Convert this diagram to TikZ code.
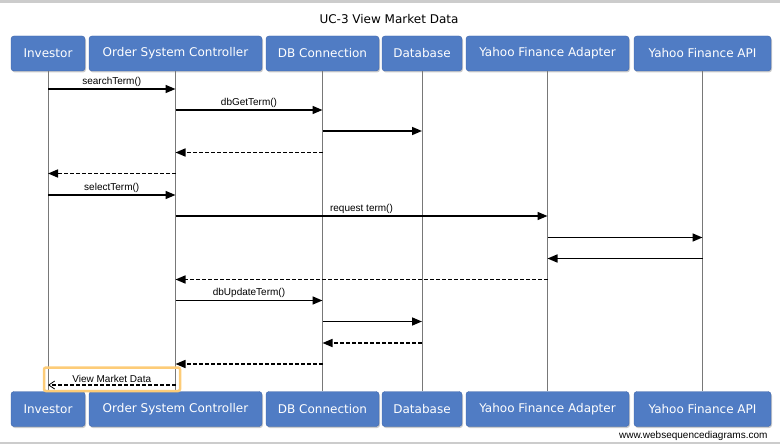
\documentclass[tikz,border=0pt]{standalone}
\usepackage{fontspec}
\setmainfont{DejaVu Sans}
\newfontfamily\msgfont{Liberation Sans}
\usetikzlibrary{arrows.meta,shadows}

\definecolor{boxblue}{RGB}{80,124,196}
\definecolor{boxedge}{RGB}{62,100,168}
\definecolor{lifegray}{RGB}{120,120,120}
\definecolor{bandgray}{RGB}{204,204,204}
\definecolor{markorange}{RGB}{253,204,120}

\tikzset{
  actor/.style={draw=boxedge, fill=boxblue, rounded corners=3pt, text=white,
    inner sep=0pt, minimum height=35pt, font=\fontsize{12}{14}\selectfont,
    drop shadow={shadow xshift=1pt, shadow yshift=-1.5pt, fill=black!40}},
  msg/.style={line width=1.5pt, -{Triangle[length=10pt,width=8pt]}},
  reply/.style={msg, dash pattern=on 4pt off 2pt},
  lbl/.style={above=1pt, inner sep=1pt, font=\msgfont\fontsize{10}{12}\selectfont},
}

\begin{document}
\begin{tikzpicture}[x=1pt,y=-1pt]
  \useasboundingbox (0,0) rectangle (780,444);

  % grey bands at top and bottom
  \fill[bandgray] (0,0) rectangle (780,3.5);
  \fill[bandgray] (0,442) rectangle (780,444);

  % title
  \node[font=\fontsize{12}{14}\selectfont] (title) at (389,19) {UC-3 View Market Data};

  % participants, top and bottom
  \foreach \n/\x/\w/\t in {inv/48/74/Investor, osc/175.5/173/Order System Controller,
      dbc/322.5/113/DB Connection, db/422/80/Database,
      yfa/547.5/163/Yahoo Finance Adapter, api/702.5/137/Yahoo Finance API}{
    \node[actor, minimum width=\w] (\n-top) at (\x,53.5) {\t};
    \node[actor, minimum width=\w] (\n-bot) at (\x,409) {\t};
    \draw[lifegray, line width=0.8pt] (\n-top.south) -- (\n-bot.north);
  }

  % highlight of the last message
  \draw[markorange, line width=2.5pt, rounded corners=2pt] (44,367.5) rectangle (180,391);

  % messages
  \draw[msg] (inv-top |- 0,89) -- (osc-top |- 0,89) node[lbl, midway] {searchTerm()};
  \draw[msg] (osc-top |- 0,110) -- (dbc-top |- 0,110) node[lbl, midway] {dbGetTerm()};
  \draw[msg] (dbc-top |- 0,131) -- (db-top |- 0,131);
  \draw[reply] (dbc-top |- 0,152.5) -- (osc-top |- 0,152.5);
  \draw[reply] (osc-top |- 0,173.5) -- (inv-top |- 0,173.5);
  \draw[msg] (inv-top |- 0,195) -- (osc-top |- 0,195) node[lbl, midway] {selectTerm()};
  \draw[msg] (osc-top |- 0,216) -- (yfa-top |- 0,216) node[lbl, midway] {request term()};
  \draw[msg] (yfa-top |- 0,237.5) -- (api-top |- 0,237.5);
  \draw[msg] (api-top |- 0,258.5) -- (yfa-top |- 0,258.5);
  \draw[reply] (yfa-top |- 0,279.5) -- (osc-top |- 0,279.5);
  \draw[msg] (osc-top |- 0,300.5) -- (dbc-top |- 0,300.5) node[lbl, midway] {dbUpdateTerm()};
  \draw[msg] (dbc-top |- 0,321.5) -- (db-top |- 0,321.5);
  \draw[reply] (db-top |- 0,343) -- (dbc-top |- 0,343);
  \draw[reply] (dbc-top |- 0,364) -- (osc-top |- 0,364);
  \draw[reply, -{Straight Barb[length=6pt,width=8pt,line width=0.8pt]}]
    (osc-top |- 0,385) -- (inv-top |- 0,385) node[lbl, midway] {View Market Data};

  % footer
  \node[anchor=east, font=\msgfont\fontsize{10}{12}\selectfont] (footer) at (771,436) {www.websequencediagrams.com};
\end{tikzpicture}
\end{document}
